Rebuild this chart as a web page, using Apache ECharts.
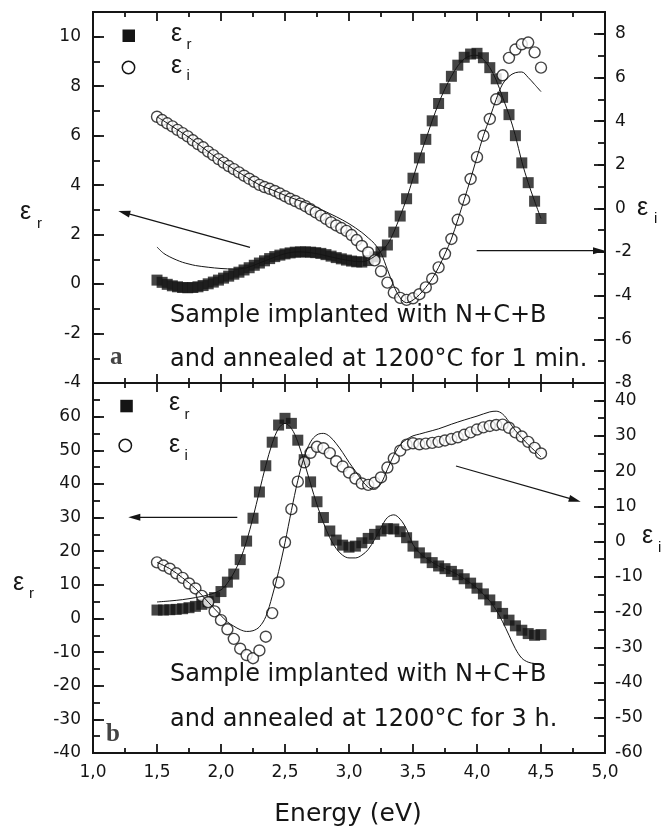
<!DOCTYPE html>
<html>
<head>
<meta charset="utf-8">
<script src="https://cdn.jsdelivr.net/npm/echarts@6/dist/echarts.min.js"></script>
<style>html,body{margin:0;padding:0;background:#fff;}#c{width:672px;height:831px;}</style>
</head>
<body>
<div id="c"></div>
<script>
// ---------- Panel a (1 min anneal) ----------
const energyA = [1.50,1.54,1.58,1.62,1.66,1.70,1.74,1.78,1.82,1.86,1.90,1.94,1.98,2.02,2.06,2.10,2.14,2.18,2.22,2.26,2.30,2.34,2.38,2.42,2.46,2.50,2.54,2.58,2.62,2.66,2.70,2.74,2.78,2.82,2.86,2.90,2.94,2.98,3.02,3.06,3.10,
  3.15,3.20,3.25,3.30,3.35,3.40,3.45,3.50,3.55,3.60,3.65,3.70,3.75,3.80,3.85,3.90,3.95,4.00,4.05,4.10,4.15,4.20,4.25,4.30,4.35,4.40,4.45,4.50];
const epsRealA = [0.16,0.07,-0.01,-0.07,-0.11,-0.14,-0.15,-0.14,-0.11,-0.06,0.01,0.08,0.16,0.24,0.32,0.40,0.48,0.57,0.66,0.76,0.85,0.94,1.03,1.11,1.17,1.22,1.26,1.29,1.30,1.30,1.29,1.27,1.24,1.19,1.13,1.07,1.02,0.97,0.93,0.90,0.89,
  0.95,1.10,1.30,1.58,2.10,2.75,3.45,4.28,5.10,5.85,6.60,7.30,7.90,8.40,8.85,9.17,9.30,9.33,9.15,8.75,8.30,7.55,6.85,6.00,4.90,4.10,3.35,2.65];
const epsImagA = [4.20,4.05,3.90,3.76,3.60,3.45,3.30,3.12,2.95,2.80,2.60,2.44,2.26,2.10,1.94,1.80,1.65,1.50,1.36,1.22,1.08,0.98,0.90,0.80,0.68,0.56,0.44,0.34,0.22,0.10,-0.04,-0.18,-0.33,-0.48,-0.64,-0.78,-0.90,-1.03,-1.22,-1.45,-1.72,
  -2.02,-2.38,-2.88,-3.40,-3.86,-4.10,-4.19,-4.12,-3.93,-3.62,-3.22,-2.70,-2.08,-1.40,-0.52,0.40,1.35,2.35,3.33,4.10,5.00,6.10,6.90,7.28,7.52,7.60,7.15,6.45];
const fitEnergyA = [1.50,1.55,1.60,1.65,1.70,1.75,1.80,1.90,2.00,2.10,2.20,2.30,2.40,2.50,2.60,2.70,2.80,2.90,3.00,3.10,
  3.15,3.20,3.25,3.30,3.35,3.40,3.45,3.50,3.55,3.60,3.65,3.70,3.75,3.80,3.85,3.90,3.95,4.00,4.05,4.10,4.15,4.20,4.25,4.30,4.35,4.40,4.45,4.50];
const fitRealA = [1.50,1.25,1.10,0.98,0.88,0.81,0.75,0.68,0.63,0.61,0.66,0.85,1.05,1.23,1.30,1.27,1.17,1.05,0.95,0.90,
  0.97,1.12,1.32,1.60,2.10,2.75,3.45,4.28,5.10,5.85,6.60,7.30,7.90,8.40,8.82,9.10,9.23,9.25,9.08,8.75,8.25,7.55,6.85,6.00,4.95,4.10,3.35,2.65];
const fitImagA = [4.20,4.02,3.83,3.64,3.45,3.25,3.04,2.60,2.18,1.80,1.43,1.08,0.85,0.60,0.38,0.18,-0.10,-0.38,-0.70,-1.10,
  -1.35,-1.62,-2.05,-2.80,-3.55,-4.10,-4.32,-4.20,-3.95,-3.62,-3.22,-2.70,-2.08,-1.40,-0.52,0.40,1.35,2.35,3.33,4.15,5.00,5.70,6.05,6.22,6.25,6.00,5.68,5.35];

// ---------- Panel b (3 h anneal) ----------
const energyB = [1.50,1.55,1.60,1.65,1.70,1.75,1.80,1.85,1.90,1.95,2.00,2.05,2.10,2.15,2.20,2.25,2.30,2.35,2.40,2.45,2.50,2.55,2.60,2.65,2.70,2.75,2.80,2.85,2.90,2.95,3.00,
  3.05,3.10,3.15,3.20,3.25,3.30,3.35,3.40,3.45,3.50,3.55,3.60,3.65,3.70,3.75,3.80,3.85,3.90,3.95,4.00,4.05,4.10,4.15,4.20,4.25,4.30,4.35,4.40,4.45,4.50];
const epsRealB = [2.5,2.5,2.6,2.7,2.9,3.2,3.6,4.2,5.0,6.2,8.0,10.8,13.2,17.5,23.0,29.8,37.6,45.4,52.4,57.5,59.5,58.0,53.0,47.2,40.6,34.7,30.0,26.0,23.3,21.8,21.2,
  21.5,22.5,23.8,25.0,26.0,26.7,26.6,25.8,24.0,21.5,19.5,18.0,16.6,15.6,14.8,14.0,13.0,11.8,10.5,9.0,7.3,5.5,3.5,1.5,-0.5,-2.2,-3.5,-4.5,-5.0,-4.8];
const epsImagB = [-5.9,-6.8,-7.7,-9.0,-10.3,-11.9,-13.3,-15.4,-17.2,-19.8,-22.3,-24.9,-27.6,-30.4,-32.2,-33.1,-30.9,-27.0,-20.3,-11.6,-0.2,9.2,17.0,22.5,25.2,26.9,26.5,25.1,22.8,21.3,19.6,
  17.9,16.5,16.1,16.7,18.2,21.0,23.6,25.8,27.5,27.9,27.6,27.8,28.0,28.3,28.7,29.1,29.6,30.3,31.0,31.8,32.4,32.8,33.1,33.2,32.3,31.0,29.8,28.3,26.6,25.0];
const fitEnergyB = [1.50,1.60,1.70,1.80,1.90,
  2.00,2.05,2.10,2.15,2.20,2.25,2.30,2.35,2.40,2.45,2.50,2.55,2.60,2.65,2.70,2.75,2.80,2.85,2.90,2.95,3.00,3.05,3.10,3.15,3.20,3.25,3.30,3.35,3.40,3.45,3.50,3.55,3.60,
  3.70,3.80,3.90,4.00,4.10,4.15,4.20,4.25,4.30,4.35,4.40,4.45,4.50];
const fitRealB = [4.9,5.2,5.6,6.2,7.0,
  8.5,10.5,13.5,17.5,23.0,30.0,37.8,45.5,52.0,56.5,58.0,56.5,52.5,46.5,40.0,33.8,28.5,24.0,20.8,18.8,18.0,18.0,18.8,20.5,23.5,27.0,30.0,30.8,29.5,26.5,22.0,19.5,18.0,
  15.6,14.0,11.8,9.0,5.2,2.5,-1.0,-5.0,-9.0,-11.8,-13.0,-13.4,-13.6];
const fitImagB = [-5.9,-7.7,-10.3,-13.3,-17.2,
  -21.0,-22.8,-24.0,-25.0,-25.5,-25.3,-24.2,-21.3,-15.5,-8.5,-0.3,8.8,17.3,24.0,28.3,30.3,30.7,29.8,27.8,25.3,22.5,20.0,17.4,15.4,14.8,16.5,20.5,24.5,27.5,29.0,30.0,30.5,31.0,
  32.0,33.3,34.5,35.6,36.8,37.0,36.2,34.0,31.5,29.5,27.5,25.8,24.0];

// ---------- Texts ----------
const panelTextA = ['Sample implanted with N+C+B', 'and annealed at 1200\u00B0C for 1 min.'];
const panelTextB = ['Sample implanted with N+C+B', 'and annealed at 1200\u00B0C for 3 h.'];
const xAxisTitle = 'Energy (eV)';

const INK = '#151515';
const pairs = (xs, ys) => xs.map((x, i) => [x, ys[i]]);

const chart = echarts.init(document.getElementById('c'), null, {renderer: 'canvas'});

const tickFont = {fontFamily: 'DejaVu Sans', fontSize: 17, color: INK};
function xAx(grid, pos, labels) {
  return {
    type: 'value', gridIndex: grid, position: pos, min: 1, max: 5, interval: 0.5,
    axisLine: {show: true, onZero: false, lineStyle: {color: INK, width: 2}},
    axisTick: {show: true, inside: true, length: 9, lineStyle: {color: INK, width: 1.8}},
    minorTick: {show: true, splitNumber: 2, length: 5, lineStyle: {color: INK, width: 1.8}},
    splitLine: {show: false}, minorSplitLine: {show: false},
    axisLabel: labels ? Object.assign({show: true, margin: 11, formatter: v => v.toFixed(1).replace('.', ',')}, tickFont) : {show: false}
  };
}
function yAx(grid, pos, min, max, interval, tickLen, labelHide) {
  return {
    type: 'value', gridIndex: grid, position: pos, min: min, max: max, interval: interval,
    axisLine: {show: true, onZero: false, lineStyle: {color: INK, width: 2}},
    axisTick: {show: true, inside: true, length: tickLen, lineStyle: {color: INK, width: 1.8}},
    splitLine: {show: false},
    axisLabel: labelHide === null ? {show: false} :
      Object.assign({show: true, margin: pos === 'left' ? 12 : 10, formatter: v => (labelHide.indexOf(v) >= 0 ? '' : String(v))}, tickFont)
  };
}

function arrow(x1, y1, x2, y2) {
  const dx = x2 - x1, dy = y2 - y1, L = Math.hypot(dx, dy), ux = dx / L, uy = dy / L;
  const hl = 12, hw = 3.5, bx = x2 - ux * hl, by = y2 - uy * hl;
  return [
    {type: 'line', z: 100, shape: {x1: x1, y1: y1, x2: bx + ux * 2, y2: by + uy * 2}, style: {stroke: INK, lineWidth: 1.2}},
    {type: 'polygon', z: 100, shape: {points: [[x2, y2], [bx - uy * hw, by + ux * hw], [bx + uy * hw, by - ux * hw]]}, style: {fill: INK}}
  ];
}
function txt(x, y, text, font, align, fill) {
  return {type: 'text', z: 100, x: x, y: y,
    style: {text: text, font: font, fill: fill || INK, align: align || 'left', textAlign: align || 'left', verticalAlign: 'middle', textVerticalAlign: 'middle'}};
}
const epsFont = '25px "Liberation Sans"';
const subFont = '15px "Liberation Sans"';
const annFont = '24px "DejaVu Sans"';
const tagFont = 'bold 25px "Liberation Serif"';

const graphics = [].concat(
  // axis titles
  [txt(20, 212, 'ε', epsFont), txt(37, 224, 'r', subFont)],
  [txt(637, 208, 'ε', epsFont), txt(654, 219, 'i', subFont)],
  [txt(13, 583, 'ε', epsFont), txt(29, 594, 'r', subFont)],
  [txt(642, 536, 'ε', epsFont), txt(658, 548, 'i', subFont)],
  [txt(348, 814, xAxisTitle, '25px "DejaVu Sans"', 'center')],
  // legends
  [{type: 'rect', z: 100, shape: {x: 122.5, y: 29.5, width: 12.5, height: 12.5}, style: {fill: INK}},
   {type: 'circle', z: 100, shape: {cx: 128.5, cy: 67.5, r: 6.2}, style: {fill: '#fff', stroke: INK, lineWidth: 1.5}},
   txt(171, 34, 'ε', epsFont), txt(186.5, 45, 'r', subFont),
   txt(171, 66.5, 'ε', epsFont), txt(186.5, 76, 'i', subFont)],
  [{type: 'rect', z: 100, shape: {x: 120.3, y: 399.8, width: 12.5, height: 12.5}, style: {fill: INK}},
   {type: 'circle', z: 100, shape: {cx: 125.3, cy: 445.5, r: 6.2}, style: {fill: '#fff', stroke: INK, lineWidth: 1.5}},
   txt(169, 403, 'ε', epsFont), txt(184.5, 415, 'r', subFont),
   txt(169, 445, 'ε', epsFont), txt(184.5, 456, 'i', subFont)],
  // panel annotations
  [txt(170, 316, panelTextA[0], annFont), txt(170, 360, panelTextA[1], annFont),
   txt(170, 675, panelTextB[0], annFont), txt(170, 720, panelTextB[1], annFont)],
  [txt(110, 358, 'a', tagFont, 'left', '#444'), txt(106, 735, 'b', tagFont, 'left', '#444')],
  // arrows
  arrow(250, 247.3, 118.3, 211),
  arrow(476.7, 250.7, 605, 250.7),
  arrow(237.3, 517.3, 128.3, 517.3),
  arrow(456, 466, 580.7, 501.7)
);

const sqStyle = {symbol: 'rect', symbolSize: 11, itemStyle: {color: INK}};
const ciStyle = {symbol: 'circle', symbolSize: 11, itemStyle: {color: '#fff', borderColor: INK, borderWidth: 1.4}};
const fitStyle = {type: 'line', smooth: 0.35, showSymbol: false, symbol: 'none', lineStyle: {color: INK, width: 1}, z: 5, silent: true};

const option = {
  animation: false,
  backgroundColor: '#fff',
  grid: [
    {left: 93, right: 67, top: 12, height: 371, containLabel: false},
    {left: 93, right: 67, top: 383, height: 370, containLabel: false}
  ],
  xAxis: [xAx(0, 'bottom', false), xAx(0, 'top', false), xAx(1, 'bottom', true), xAx(1, 'top', false)],
  yAxis: [
    yAx(0, 'left', -4, 11, 2, 11, [11]),
    yAx(0, 'left', -4, 11, 1, 7, null),
    yAx(0, 'right', -8, 9, 2, 11, [9]),
    yAx(0, 'right', -8, 9, 1, 7, null),
    yAx(1, 'left', -40, 70, 10, 11, [70]),
    yAx(1, 'left', -40, 70, 5, 7, null),
    yAx(1, 'right', -60, 45, 10, 11, [45]),
    yAx(1, 'right', -60, 45, 5, 7, null)
  ],
  series: [
    Object.assign({type: 'scatter', name: 'εr (a)', xAxisIndex: 0, yAxisIndex: 0, data: pairs(energyA, epsRealA), z: 2}, sqStyle),
    Object.assign({type: 'scatter', name: 'εi (a)', xAxisIndex: 0, yAxisIndex: 2, data: pairs(energyA, epsImagA), z: 3}, ciStyle),
    Object.assign({}, fitStyle, {name: 'fit εr (a)', xAxisIndex: 0, yAxisIndex: 0, data: pairs(fitEnergyA, fitRealA)}),
    Object.assign({}, fitStyle, {name: 'fit εi (a)', xAxisIndex: 0, yAxisIndex: 2, data: pairs(fitEnergyA, fitImagA)}),
    Object.assign({type: 'scatter', name: 'εr (b)', xAxisIndex: 2, yAxisIndex: 4, data: pairs(energyB, epsRealB), z: 2}, sqStyle),
    Object.assign({type: 'scatter', name: 'εi (b)', xAxisIndex: 2, yAxisIndex: 6, data: pairs(energyB, epsImagB), z: 3}, ciStyle),
    Object.assign({}, fitStyle, {name: 'fit εr (b)', xAxisIndex: 2, yAxisIndex: 4, data: pairs(fitEnergyB, fitRealB)}),
    Object.assign({}, fitStyle, {name: 'fit εi (b)', xAxisIndex: 2, yAxisIndex: 6, data: pairs(fitEnergyB, fitImagB)})
  ],
  graphic: graphics
};
chart.setOption(option);
</script>
</body>
</html>
